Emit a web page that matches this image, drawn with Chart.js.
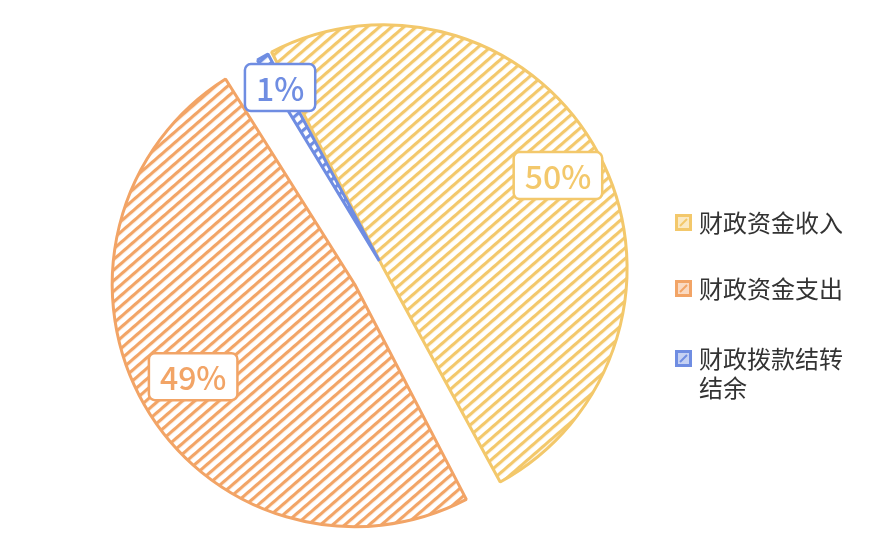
<!DOCTYPE html>
<html>
<head>
<meta charset="utf-8">
<script src="https://cdn.jsdelivr.net/npm/chart.js@4.4.1/dist/chart.umd.min.js"></script>
<style>
  html, body { margin: 0; padding: 0; background: #fff; }
  #wrap { width: 882px; height: 556px; position: relative; }
</style>
</head>
<body>
<div id="wrap"><canvas id="pie"></canvas></div>
<script>
const categories = ["财政资金收入", "财政资金支出", "财政拨款结转结余"];
const shares = [50, 49, 1];
const shareLabels = ["50%", "49%", "1%"];
const sliceColors = ["#F3C86B", "#F2A466", "#6F8DE2"];

const canvas = document.getElementById("pie");
const ctx = canvas.getContext("2d");

// diagonal stripe fill, like the hatched slices
function hatch(color) {
  const tile = document.createElement("canvas");
  tile.width = 8;
  tile.height = 8;
  const t = tile.getContext("2d");
  t.fillStyle = "#fff";
  t.fillRect(0, 0, 8, 8);
  t.fillStyle = color;
  t.fillRect(0, 0, 8, 3.2);
  const p = ctx.createPattern(tile, "repeat");
  p.setTransform(new DOMMatrix().rotate(-41));
  return p;
}

// blue sliver sits flush against the exploded yellow slice
const flushBlue = {
  id: "flushBlue",
  afterDatasetsUpdate(chart) {
    const arcs = chart.getDatasetMeta(0).data;
    const y = arcs[0], b = arcs[2];
    const shift = (y.options.offset || 0) / 4;
    const mid = (y.startAngle + y.endAngle) / 2;
    b.x = y.x + Math.cos(mid) * shift;
    b.y = y.y + Math.sin(mid) * shift;
  }
};

// boxed percentage labels
const labelRadius = [0.87, 0.82, 0.88];
const sliceLabels = {
  id: "sliceLabels",
  afterDatasetsDraw(chart) {
    const c = chart.ctx;
    chart.getDatasetMeta(0).data.forEach((a, i) => {
      const mid = (a.startAngle + a.endAngle) / 2;
      const sh = (a.options.offset || 0) / 4;
      const r = a.outerRadius * labelRadius[i] + sh;
      const x = a.x + Math.cos(mid) * r;
      const y = a.y + Math.sin(mid) * r;
      c.save();
      c.font = "500 32px 'Noto Sans CJK SC', 'Noto Sans', sans-serif";
      const w = c.measureText(shareLabels[i]).width + 22;
      const h = 47;
      c.beginPath();
      c.roundRect(x - w / 2, y - h / 2, w, h, 6);
      c.fillStyle = "#fff";
      c.fill();
      c.lineWidth = 2.5;
      c.strokeStyle = sliceColors[i];
      c.stroke();
      c.fillStyle = sliceColors[i];
      c.textAlign = "center";
      c.textBaseline = "middle";
      c.fillText(shareLabels[i], x, y + 1);
      c.restore();
    });
  }
};

// legend on the right, long names wrap after 6 characters
function wrap(text, n) {
  const lines = [];
  for (let i = 0; i < text.length; i += n) lines.push(text.slice(i, i + n));
  return lines;
}
const legendTop = [222, 288, 358];
const sideLegend = {
  id: "sideLegend",
  afterDraw(chart) {
    const c = chart.ctx;
    c.save();
    categories.forEach((name, i) => {
      const bx = 675, by = legendTop[i] - 8;
      c.fillStyle = sliceColors[i];
      c.fillRect(bx, by, 17, 17);
      c.fillStyle = "rgba(255,255,255,0.6)";
      c.fillRect(bx + 3, by + 3, 11, 11);
      c.strokeStyle = sliceColors[i];
      c.lineWidth = 2;
      c.beginPath();
      c.moveTo(bx + 5, by + 12);
      c.lineTo(bx + 12, by + 5);
      c.stroke();
      c.fillStyle = "#333";
      c.font = "24px 'Noto Sans CJK SC', sans-serif";
      c.textBaseline = "middle";
      wrap(name, 6).forEach((line, k) => {
        c.fillText(line, 699, legendTop[i] + 1 + k * 29);
      });
    });
    c.restore();
  }
};

new Chart(ctx, {
  type: "pie",
  data: {
    labels: categories,
    datasets: [
      {
        data: shares,
        backgroundColor: sliceColors.map(hatch),
        borderColor: sliceColors,
        borderWidth: 3,
        offset: [66, 66, 34],
        radius: 227,
        rotation: -28,
      },
    ],
  },
  options: {
    responsive: true,
    maintainAspectRatio: false,
    animation: false,
    events: [],
    layout: { padding: { left: 0, right: 144, top: 0, bottom: 4 } },
    plugins: {
      legend: { display: false },
      tooltip: { enabled: false },
    },
  },
  plugins: [flushBlue, sliceLabels, sideLegend],
});
</script>
</body>
</html>
